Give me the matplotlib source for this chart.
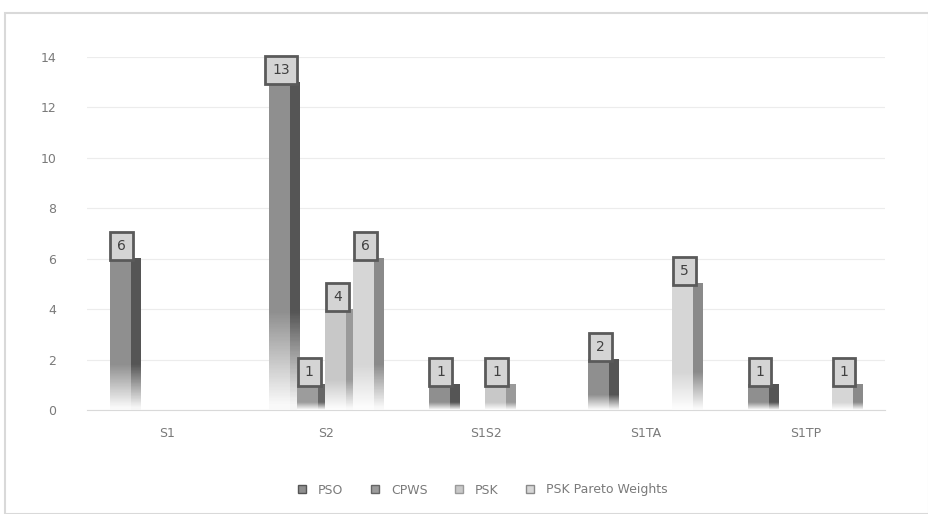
import numpy as np
import matplotlib
matplotlib.use("Agg")
import matplotlib.pyplot as plt
from matplotlib.colors import to_rgb
from matplotlib.patches import Rectangle
from matplotlib.lines import Line2D

categories = ["S1", "S2", "S1S2", "S1TA", "S1TP"]
series_names = ["PSO", "CPWS", "PSK", "PSK Pareto Weights"]
pso = [6, 13, 1, 2, 1]
cpws = [0, 1, 0, 0, 0]
psk = [0, 4, 1, 0, 0]
psk_pareto = [0, 6, 0, 5, 1]
y_ticks = [0, 2, 4, 6, 8, 10, 12, 14]

series = [pso, cpws, psk, psk_pareto]
body_colors = ["#8f8f8f", "#9c9c9c", "#c8c8c8", "#d6d6d6"]
edge_colors = ["#555555", "#666666", "#9a9a9a", "#8a8a8a"]

fig = plt.figure(figsize=(9.29, 5.14), dpi=100)
ax = fig.add_axes([87 / 929, 1 - 410 / 514, (885 - 87) / 929, (410 - 57) / 514])

slot = 0.1755
width = 0.19
offsets = (np.arange(len(series)) - 1.5) * slot
x = np.arange(len(categories))


def gradient_bar(ax, xc, h, body, edge):
    """Bar with a front face fading to white at its base and a darker side strip."""
    x0, x1 = xc - width / 2, xc + width / 2
    n = 256
    t = np.linspace(0, 1, n)[:, None]
    f = np.clip(t / 0.3, 0.05, 1.0)
    white = np.ones(3)
    c = np.array(to_rgb(body))
    e = np.array(to_rgb(edge))
    cols = 12
    img = np.zeros((n, cols, 3))
    for j in range(cols):
        base = e if j >= cols - 4 else c
        img[:, j, :] = white * (1 - f) + base * f
    ax.imshow(img, extent=(x0, x1, 0, h), origin="lower",
              aspect="auto", interpolation="nearest", zorder=3)


for k, vals in enumerate(series):
    for i, v in enumerate(vals):
        if v <= 0:
            continue
        xc = x[i] + offsets[k]
        gradient_bar(ax, xc, v, body_colors[k], edge_colors[k])

for k, vals in enumerate(series):
    for i, v in enumerate(vals):
        if v <= 0:
            continue
        xc = x[i] + offsets[k]
        ax.annotate(str(v), xy=(xc - 0.02, v), xytext=(0, 4),
                    textcoords="offset points", ha="center", va="bottom",
                    fontsize=10, color="#404040", zorder=6,
                    bbox=dict(boxstyle="square,pad=0.5", fc="#d4d4d4",
                              ec="#5a5a5a", lw=2.0),
                    annotation_clip=False)

ax.set_xlim(-0.5, len(categories) - 0.5)
ax.set_ylim(0, 14)
ax.set_yticks(y_ticks)
ax.set_yticklabels([str(v) for v in y_ticks])
ax.set_xticks(x)
ax.set_xticklabels(categories)
ax.tick_params(axis="both", length=0, labelsize=9, labelcolor="#7a7a7a")
ax.tick_params(axis="y", pad=22)
ax.tick_params(axis="x", pad=12)
ax.grid(axis="y", color="#ececec", lw=0.8, zorder=0)
for s in ["top", "right", "left"]:
    ax.spines[s].set_visible(False)
ax.spines["bottom"].set_color("#d9d9d9")
ax.set_facecolor("white")

handles = [Line2D([], [], marker="s", ls="none", markersize=6,
                  markerfacecolor=body_colors[k], markeredgecolor=edge_colors[k])
           for k in range(len(series))]
fig.legend(handles, series_names, loc="center", ncol=4,
           bbox_to_anchor=(0.515, 1 - 490 / 514), frameon=False,
           fontsize=9, labelcolor="#7a7a7a", handletextpad=0.3,
           columnspacing=1.5)

fig.patches.append(Rectangle((5 / 929, 0), 1 - 5 / 929, 1 - 13 / 514,
                             transform=fig.transFigure, fill=False,
                             ec="#d9d9d9", lw=1.5))

fig.savefig("out.png", dpi=100, facecolor="white")
